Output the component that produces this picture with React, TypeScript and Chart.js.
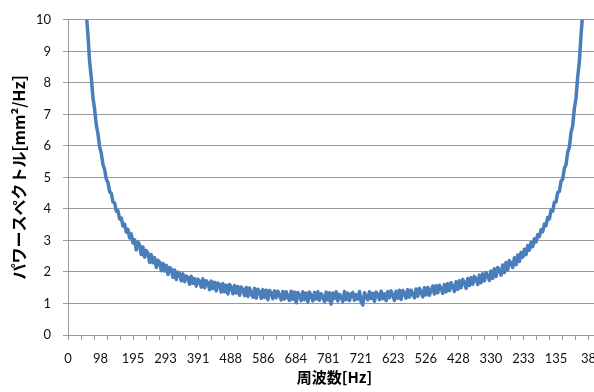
import { useEffect, useRef } from 'react';
import { Chart, registerables } from 'chart.js';

Chart.register(...registerables);

// Sampling / axis constants
const BIN_HZ = 5;
const SAMPLE_RATE_HZ = 1600;
const LABEL_STEP_HZ = 97.65625;
const TICK_STEP_HZ = 39.0625;

// Category tick labels shown on the x axis (mirrored FFT frequency)
const xTickLabels = ['0', '98', '195', '293', '391', '488', '586', '684', '781', '721', '623', '526', '428', '330', '233', '135', '38'];

// Y axis range
const Y_MIN = 0;
const Y_MAX = 10;
const Y_STEP = 1;

// Power spectrum values, one per 5 Hz bin
const psdValues = [
  95, 70, 56, 37.5, 28.3, 22.1, 18.9, 15.9, 14.2, 12.6,
  11.3, 10.2, 9.50, 8.66, 8.16, 7.52, 7.16, 6.66, 6.38, 5.97,
  5.76, 5.41, 5.25, 4.94, 4.84, 4.55, 4.49, 4.22, 4.19, 3.93,
  3.94, 3.68, 3.71, 3.46, 3.52, 3.26, 3.35, 3.08, 3.21, 2.92,
  3.02, 2.70, 2.95, 2.86, 2.55, 2.79, 2.47, 2.68, 2.58, 2.30,
  2.55, 2.29, 2.45, 2.14, 2.37, 2.31, 2.04, 2.27, 2.03, 2.21,
  1.92, 2.14, 2.09, 1.83, 2.06, 1.76, 1.99, 1.95, 1.72, 1.94,
  1.69, 1.87, 1.83, 1.61, 1.86, 1.64, 1.79, 1.55, 1.77, 1.71,
  1.52, 1.78, 1.50, 1.72, 1.66, 1.44, 1.71, 1.47, 1.67, 1.40,
  1.65, 1.60, 1.36, 1.63, 1.37, 1.58, 1.30, 1.60, 1.52, 1.31,
  1.57, 1.33, 1.54, 1.26, 1.52, 1.44, 1.25, 1.51, 1.22, 1.49,
  1.30, 1.20, 1.48, 1.17, 1.45, 1.38, 1.16, 1.44, 1.19, 1.42,
  1.12, 1.41, 1.33, 1.15, 1.40, 1.18, 1.39, 1.26, 1.11, 1.38,
  1.14, 1.37, 1.20, 1.10, 1.39, 1.13, 1.36, 1.02, 1.35, 1.27,
  1.09, 1.37, 1.12, 1.33, 1.05, 1.36, 1.24, 1.08, 1.35, 1.14,
  1.37, 1.10, 1.31, 1.22, 1.06, 1.36, 1.11, 1.34, 0.98, 1.33,
  1.16, 1.37, 1.08, 1.29, 1.22, 1.06, 1.38, 1.12, 1.33, 1.09,
  1.30, 1.35, 1.10, 1.28, 1.14, 1.38, 1.05, 0.95, 1.34, 1.23,
  1.11, 1.37, 1.16, 1.32, 1.07, 1.36, 1.27, 1.12, 1.39, 1.15,
  1.31, 1.09, 1.38, 1.18, 1.40, 1.26, 1.10, 1.39, 1.17, 1.42,
  1.13, 1.41, 1.33, 1.17, 1.44, 1.20, 1.42, 1.29, 1.18, 1.46,
  1.23, 1.48, 1.35, 1.21, 1.50, 1.27, 1.51, 1.26, 1.43, 1.55,
  1.30, 1.56, 1.34, 1.58, 1.47, 1.32, 1.60, 1.37, 1.63, 1.41,
  1.66, 1.54, 1.38, 1.69, 1.45, 1.72, 1.50, 1.76, 1.66, 1.48,
  1.79, 1.57, 1.82, 1.61, 1.86, 1.78, 1.60, 1.90, 1.66, 1.94,
  1.72, 1.98, 1.90, 1.73, 2.03, 1.80, 2.10, 1.86, 2.14, 2.07,
  1.90, 2.22, 1.98, 2.30, 2.07, 2.36, 2.28, 2.14, 2.45, 2.23,
  2.54, 2.33, 2.62, 2.47, 2.72, 2.55, 2.84, 2.69, 2.93, 2.80,
  3.05, 2.95, 3.18, 3.12, 3.34, 3.28, 3.52, 3.47, 3.73, 3.68,
  3.96, 3.93, 4.21, 4.22, 4.52, 4.55, 4.88, 4.94, 5.29, 5.40,
  5.80, 5.95, 6.42, 6.64, 7.18, 7.52, 8.18, 8.66, 9.51, 10.2,
  11.3, 12.5, 14.1, 16.0, 18.8, 22.3, 28.2, 37.4, 56.0, 112,
];

// Bin centre frequencies (x categories)
const freqHz = psdValues.map((_, i) => i * BIN_HZ);

const GRID = '#9a9a9a';
const TEXT = '#111111';
const TICK_FONT = { family: 'Lato, "Open Sans", sans-serif', size: 13 };
const CJK = '"Noto Sans CJK JP", "Noto Sans", sans-serif';

export default function App() {
  const ref = useRef<HTMLCanvasElement>(null);

  useEffect(() => {
    const canvas = ref.current;
    if (!canvas) return;
    const sub = TICK_STEP_HZ / 2;
    const perLabel = Math.round(LABEL_STEP_HZ / sub);
    const perTick = Math.round(TICK_STEP_HZ / sub);
    const chart = new Chart(canvas, {
      type: 'line',
      data: {
        datasets: [
          {
            data: freqHz.map((x, i) => ({ x, y: psdValues[i] })),
            borderColor: '#4a7ebb',
            borderWidth: 3.5,
            pointRadius: 0,
            tension: 0,
            clip: 0,
            borderJoinStyle: 'round',
          },
        ],
      },
      options: {
        animation: false,
        responsive: false,
        devicePixelRatio: 1,
        layout: { padding: { left: 0, right: 19, top: 18, bottom: 0 } },
        plugins: { legend: { display: false }, tooltip: { enabled: false } },
        scales: {
          x: {
            type: 'linear',
            min: 0,
            max: SAMPLE_RATE_HZ,
            afterBuildTicks: (s: any) => {
              const t: { value: number }[] = [];
              for (let j = 0; j * sub < SAMPLE_RATE_HZ - 1; j++) t.push({ value: j * sub });
              s.ticks = t;
            },
            afterFit: (s: any) => {
              s.height = 57;
            },
            ticks: {
              autoSkip: false,
              maxRotation: 0,
              minRotation: 0,
              padding: 11,
              font: TICK_FONT,
              color: TEXT,
              callback: (_v: any, i: number) => (i % perLabel === 0 ? xTickLabels[i / perLabel] ?? '' : ''),
            },
            grid: {
              drawOnChartArea: false,
              drawTicks: true,
              tickLength: 5,
              tickColor: (ctx: any) => (ctx.index % perTick === 0 ? GRID : 'rgba(0,0,0,0)'),
            },
            border: { display: true, color: GRID },
            title: {
              display: true,
              text: '周波数[Hz]',
              color: '#000',
              font: { family: CJK, size: 15, weight: 'bold' },
              padding: { top: 0, bottom: 6 },
            },
          },
          y: {
            min: Y_MIN,
            max: Y_MAX,
            afterFit: (s: any) => {
              s.width = 68;
            },
            ticks: { stepSize: Y_STEP, padding: 12, font: TICK_FONT, color: TEXT },
            grid: { color: GRID, tickLength: 5, drawTicks: true, tickColor: GRID },
            border: { display: true, color: GRID },
            title: {
              display: true,
              text: 'パワースペクトル[mm²/Hz]',
              color: '#000',
              font: { family: CJK, size: 16, weight: 'bold' },
              padding: { top: 9, bottom: 0 },
            },
          },
        },
      },
    } as any);
    return () => chart.destroy();
  }, []);

  return (
    <div
      style={{
        position: 'fixed',
        left: 0,
        top: 0,
        width: 594,
        height: 392,
        overflow: 'hidden',
        background: '#fff',
      }}
    >
      <canvas ref={ref} width={620} height={392} style={{ display: 'block' }} />
    </div>
  );
}
